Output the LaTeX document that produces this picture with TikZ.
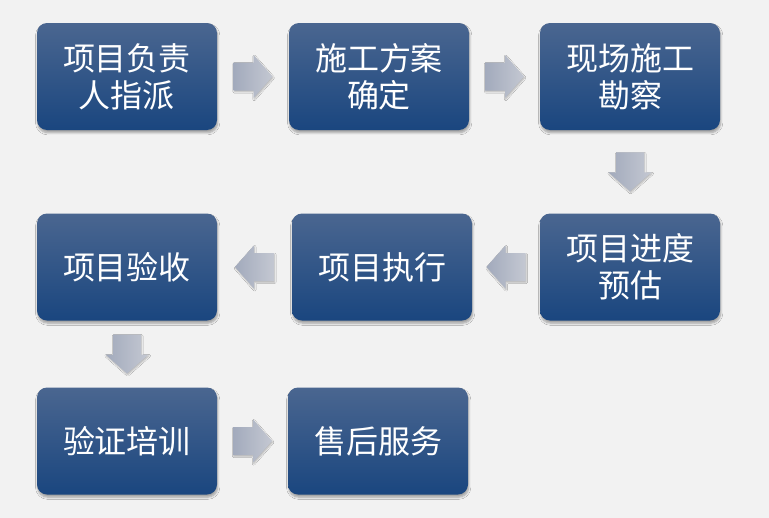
\documentclass[tikz,border=0pt]{standalone}
\usepackage{fontspec}
\newfontfamily\cjk{Noto Sans CJK SC}
\usetikzlibrary{calc,shadows.blur}
\definecolor{bg}{HTML}{F2F2F2}
\definecolor{btop}{HTML}{4A6690}
\definecolor{bmid}{HTML}{1F4E89}
\definecolor{bbot}{HTML}{1A467F}
\definecolor{adark}{HTML}{A2AABC}
\definecolor{alight}{HTML}{C4C8D2}
\tikzset{
  stepbox/.style={rectangle, rounded corners=7.5pt, minimum width=135pt,
    minimum height=80.25pt, top color=btop, middle color=bmid, bottom color=bbot,
    text=white, font=\cjk\fontsize{24}{27.75}\selectfont, align=center, inner sep=0pt,
    blur shadow={shadow xshift=0.5pt, shadow yshift=-2pt, shadow blur radius=1.6pt, shadow opacity=35, shadow blur steps=6}},
  flowarrow/.style={left color=adark, right color=alight, draw=none,
    blur shadow={shadow xshift=0.5pt, shadow yshift=-1pt, shadow blur radius=1pt, shadow opacity=25, shadow blur steps=4}}
}
\newcommand\blockarrow[2]{%
  \begin{scope}[shift={#1}, rotate=#2]
    \path[flowarrow] (-19.5,-14) -- (0.5,-14) -- (0.5,-21.5) -- (19.5,0)
      -- (0.5,21.5) -- (0.5,14) -- (-19.5,14) -- cycle;
  \end{scope}}
\begin{document}
\begin{tikzpicture}[x=0.75pt,y=-0.75pt]
  \fill[bg] (0,0) rectangle (769,518);
  \useasboundingbox (0,0) rectangle (769,518);
  \node[stepbox] (b1) at (127,76.5) {项目负责\\人指派};
  \node[stepbox] (b2) at (379,76.5) {施工方案\\确定};
  \node[stepbox] (b3) at (630,76.5) {现场施工\\勘察};
  \node[stepbox] (b4) at (630,267) {项目进度\\预估};
  \node[stepbox] (b5) at (382,267) {项目执行};
  \node[stepbox] (b6) at (127,267) {项目验收};
  \node[stepbox] (b7) at (127,441) {验证培训};
  \node[stepbox] (b8) at (378,441) {售后服务};
  \coordinate (a1) at ($(b1.east)!0.5!(b2.west)$);
  \coordinate (a2) at ($(b2.east)!0.5!(b3.west)$);
  \coordinate (a3) at ($(b3.south)!0.5!(b4.north)$);
  \coordinate (a4) at ($(b4.west)!0.5!(b5.east)$);
  \coordinate (a5) at ($(b5.west)!0.5!(b6.east)$);
  \coordinate (a6) at ($(b6.south)!0.5!(b7.north)$);
  \coordinate (a7) at ($(b7.east)!0.5!(b8.west)$);
  \blockarrow{(a1)}{0}
  \blockarrow{(a2)}{0}
  \blockarrow{(a3)}{-90}
  \blockarrow{(a4)}{180}
  \blockarrow{(a5)}{180}
  \blockarrow{(a6)}{-90}
  \blockarrow{(a7)}{0}
\end{tikzpicture}
\end{document}
